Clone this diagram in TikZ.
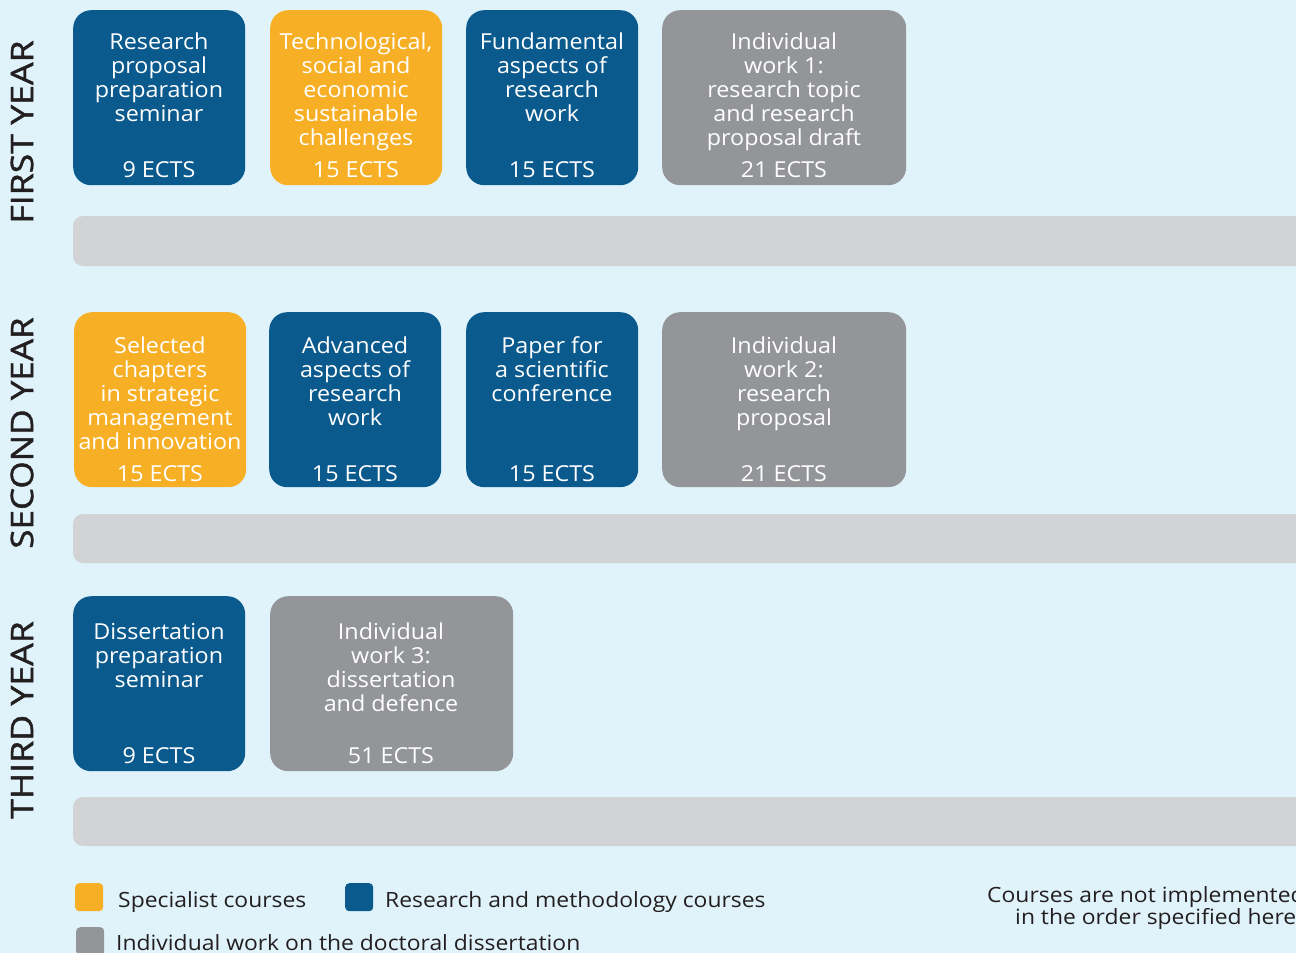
\documentclass[tikz,border=0pt]{standalone}
\usepackage{fontspec}
\setmainfont{Open Sans}
\newfontfamily\boxfont[FakeStretch=1.06]{Open Sans}
\newfontfamily\legfont[FakeStretch=1.09]{Open Sans}
\newfontfamily\yearfont[FakeBold=1.2]{Open Sans}
\definecolor{bgc}{HTML}{E0F3FB}
\definecolor{bluec}{HTML}{0A5A8E}
\definecolor{orangec}{HTML}{F7AF25}
\definecolor{grayc}{HTML}{939598}
\definecolor{barc}{HTML}{D1D3D4}
\definecolor{inkc}{HTML}{231F20}
\tikzset{
  box/.style={rounded corners=18pt, minimum width=#1, minimum height=175pt, anchor=north west, inner sep=0pt, draw=none},
  bluebox/.style={box=#1, fill=bluec},
  orangebox/.style={box=#1, fill=orangec},
  graybox/.style={box=#1, fill=grayc},
  bar/.style={fill=barc, rounded corners=10pt},
  title/.style={anchor=north, inner sep=0pt, align=center, text=white, font=\boxfont\fontsize{22}{24}\selectfont},
  ects/.style={anchor=base, inner sep=0pt, text=white, font=\boxfont\fontsize{22}{24}\selectfont},
  yearlbl/.style={rotate=90, inner sep=0pt, text=inkc, font=\yearfont\fontsize{31}{34}\selectfont},
  legsq/.style={fill=#1, rounded corners=4pt, minimum width=28pt, minimum height=28pt, inner sep=0pt, anchor=north west},
  legtxt/.style={anchor=base west, inner sep=0pt, text=inkc, font=\legfont\fontsize{21}{24}\selectfont},
}
\newcommand{\fl}{\rule{0pt}{18pt}}
\begin{document}
\begin{tikzpicture}[x=1pt, y=-1pt]
\useasboundingbox (0,0) rectangle (1296,953);
\clip (0,0) rectangle (1296,953);
\fill[bgc] (0,0) rectangle (1296,953);

% year labels
\node[yearlbl] (y1) at (22,132) {\scalebox{1.15}[1]{FIRST YEAR}};
\node[yearlbl] (y2) at (22,433) {\scalebox{1.13}[1]{SECOND YEAR}};
\node[yearlbl] (y3) at (22,720) {\scalebox{1.15}[1]{THIRD YEAR}};

% bars
\fill[bar] (73,216) rectangle (1306,266);
\fill[bar] (73,514) rectangle (1306,563);
\fill[bar] (73,797) rectangle (1306,846);

% row 1
\node[bluebox=172pt] (b11) at (73,10) {};
\node[orangebox=172pt] (b12) at (270,10) {};
\node[bluebox=172pt] (b13) at (466,10) {};
\node[graybox=244pt] (b14) at (662,10) {};
\node[title] (t11) at (159,31) {\fl Research\\proposal\\preparation\\seminar};
\node[title] (t12) at (356,31) {\fl Technological,\\social and\\economic\\sustainable\\challenges};
\node[title] (t13) at (552,31) {\fl Fundamental\\aspects of\\research\\work};
\node[title] (t14) at (784,31) {\fl Individual\\work 1:\\research topic\\and research\\proposal draft};
\node[ects] (e11) at (159,177) {9 ECTS};
\node[ects] (e12) at (356,177) {15 ECTS};
\node[ects] (e13) at (552,177) {15 ECTS};
\node[ects] (e14) at (784,177) {21 ECTS};

% row 2
\node[orangebox=172pt] (b21) at (74,312) {};
\node[bluebox=172pt] (b22) at (269,312) {};
\node[bluebox=172pt] (b23) at (466,312) {};
\node[graybox=244pt] (b24) at (662,312) {};
\node[title] (t21) at (160,335) {\fl Selected\\chapters\\in strategic\\management\\and innovation};
\node[title] (t22) at (355,335) {\fl Advanced\\aspects of\\research\\work};
\node[title] (t23) at (552,335) {\fl Paper for\\a scientific\\conference};
\node[title] (t24) at (784,335) {\fl Individual\\work 2:\\research\\proposal};
\node[ects] (e21) at (160,481) {15 ECTS};
\node[ects] (e22) at (355,481) {15 ECTS};
\node[ects] (e23) at (552,481) {15 ECTS};
\node[ects] (e24) at (784,481) {21 ECTS};

% row 3
\node[bluebox=172pt] (b31) at (73,596) {};
\node[graybox=243pt] (b32) at (270,596) {};
\node[title] (t31) at (159,621) {\fl Dissertation\\preparation\\seminar};
\node[title] (t32) at (391,621) {\fl Individual\\work 3:\\dissertation\\and defence};
\node[ects] (e31) at (159,763) {9 ECTS};
\node[ects] (e32) at (391,763) {51 ECTS};

% legend
\node[legsq=orangec] (l1) at (75,883) {};
\node[legsq=bluec] (l2) at (345,883) {};
\node[legsq=grayc] (l3) at (76,927) {};
\node[legtxt] (lt1) at (118,907) {Specialist courses};
\node[legtxt] (lt2) at (385,907) {Research and methodology courses};
\node[legtxt] (lt3) at (116,950) {Individual work on the doctoral dissertation};

\node[legtxt] (n1) at (987,902) {Courses are not implemented};
\node[legtxt] (n2) at (1015,924) {in the order specified here};
\end{tikzpicture}
\end{document}
